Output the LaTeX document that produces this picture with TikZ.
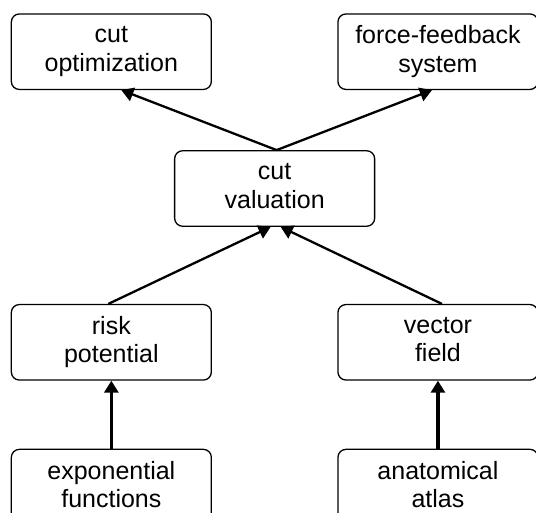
\documentclass[tikz,border=0pt]{standalone}
\usepackage{fontspec}
\setmainfont{Liberation Sans}
\usetikzlibrary{arrows.meta}

\begin{document}
\begin{tikzpicture}[
      every matrix/.style={ampersand replacement=\&,column sep=-38pt,row sep=68pt},
      stage/.style={draw,line width=1.3pt,rounded corners=8pt,align=center,
        minimum width=200pt,minimum height=75.5pt,inner sep=0pt,text depth=5.5pt,
        font=\fontsize{25}{28.5}\selectfont},
      to/.style={-{Triangle[width=14pt,length=12pt]},line width=2.3pt},
      up/.style={-{Triangle[width=14pt,length=12pt]},line width=3.3pt},
      ]

    % Position the nodes
    \matrix{
      \node[stage] (opt) {cut\\optimization}; \& \& \node[stage] (ffb) {force-feedback\\system}; \\[-8pt]
      \& \node[stage] (val) {cut\\valuation}; \& \\[9pt]
      \node[stage] (risk) {risk\\potential}; \& \& \node[stage] (vec) {vector\\field}; \\
      \node[stage] (expf) {exponential\\functions}; \& \& \node[stage] (atlas) {anatomical\\atlas}; \\
    };

    % Draw the arrows
    \path[to] ([xshift=2pt]val.north) edge ([xshift=10pt]opt.south);
    \path[to] ([xshift=2pt]val.north) edge ([xshift=-6pt]ffb.south);
    \path[to] ([xshift=-3pt]risk.north) edge ([xshift=-4pt]val.south);
    \path[to] ([xshift=4pt]vec.north) edge ([xshift=6pt]val.south);

    \path[up] (expf.north) edge (risk.south);
    \path[up] (atlas.north) edge (vec.south);

    % Fix the margins
    \pgfresetboundingbox
    \useasboundingbox ([shift={(-10.7pt,13.3pt)}]opt.north west) rectangle ++(536pt,-513pt);

  \end{tikzpicture}
\end{document}
